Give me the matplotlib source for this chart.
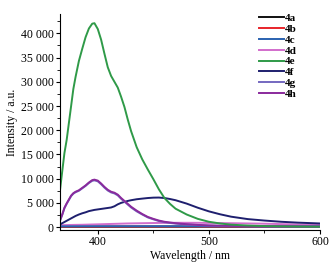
import matplotlib
matplotlib.use("Agg")
import matplotlib.pyplot as plt
from matplotlib.ticker import FuncFormatter, MultipleLocator

plt.rcParams['font.family'] = ['Liberation Serif', 'DejaVu Serif']

labels = ['4a', '4b', '4c', '4d', '4e', '4f', '4g', '4h']
colors = ['#111111', '#e8242a', '#2a62b0', '#d26ccc', '#2f9a48', '#1e1f6e', '#7468c0', '#8a2a9c']

# dense sampling for the structured spectra
wl = [366, 368, 370, 372, 374, 376, 378, 380,
      383, 386, 389, 392, 395, 397,
      400, 403, 406, 409, 412, 415, 418, 421, 424, 427, 430,
      435, 440, 445, 450, 455, 460, 465, 470,
      480, 490, 500, 510, 520,
      535, 550, 565, 580, 600]

s4d = [400, 400, 410, 420, 430, 440, 450, 460,
       470, 480, 500, 520, 540, 550,
       570, 590, 610, 630, 650, 670, 690, 710, 730, 750, 760,
       780, 800, 820, 840, 860, 870, 880, 890,
       890, 880, 860, 830, 800,
       750, 700, 620, 540, 450]
s4e = [7600, 11500, 15300, 18000, 21500, 25000, 28500, 31000,
       34300, 36800, 39200, 41000, 42000, 42100,
       40900, 38700, 35800, 33000, 31200, 30000, 28800, 26900, 24800, 22200, 19800,
       16500, 14000, 11900, 9900, 7800, 6000, 4800, 3800,
       2600, 1700, 1100, 750, 500,
       320, 200, 150, 110, 80]
s4f = [550, 800, 1050, 1300, 1550, 1800, 2050, 2300,
       2600, 2850, 3050, 3300, 3450, 3550,
       3650, 3750, 3850, 3950, 4050, 4300, 4700, 5000, 5200, 5400, 5550,
       5750, 5880, 6000, 6080, 6100, 6000, 5800, 5550,
       4850, 4000, 3250, 2650, 2150,
       1650, 1350, 1100, 920, 750]
s4g = [1300, 2500, 3900, 4800, 5600, 6400, 6900, 7200,
       7500, 8000, 8500, 9100, 9550, 9650,
       9450, 8850, 8150, 7550, 7150, 6950, 6550, 5850, 5250, 4650, 4050,
       3250, 2600, 2000, 1600, 1250, 1000, 850, 720,
       530, 400, 310, 260, 220,
       180, 140, 120, 100, 90]
s4h = [1400, 2600, 4000, 4900, 5700, 6500, 7000, 7300,
       7600, 8100, 8600, 9200, 9700, 9800,
       9600, 9000, 8300, 7700, 7300, 7100, 6700, 6000, 5400, 4800, 4200,
       3400, 2700, 2100, 1700, 1350, 1100, 950, 800,
       600, 450, 350, 300, 250,
       200, 160, 130, 110, 100]

# coarse sampling for the nearly flat spectra
wl_flat = [366, 400, 450, 500, 550, 600]
s4a = [60, 60, 70, 70, 60, 60]
s4b = [100, 110, 120, 120, 110, 100]
s4c = [160, 180, 190, 180, 160, 140]

data = {
    '4a': (wl_flat, s4a), '4b': (wl_flat, s4b), '4c': (wl_flat, s4c),
    '4d': (wl, s4d), '4e': (wl, s4e), '4f': (wl, s4f), '4g': (wl, s4g), '4h': (wl, s4h),
}

fig = plt.figure(figsize=(3.35, 2.66), dpi=100)
ax = fig.add_axes([60/335, (266-230)/266, (320-60)/335, (230-14)/266])

draw_order = ['4a', '4b', '4d', '4c', '4f', '4g', '4h', '4e']
handles = {}
for lab in draw_order:
    i = labels.index(lab)
    x, y = data[lab]
    h, = ax.plot(x, y, color=colors[i], lw=1.4, label=lab, solid_joinstyle='round')
    handles[lab] = h

ax.set_xlim(366, 600)
ax.set_ylim(-600, 44000)
ax.xaxis.set_major_locator(MultipleLocator(100))
ax.xaxis.set_minor_locator(MultipleLocator(50))
ax.yaxis.set_major_locator(MultipleLocator(5000))
ax.yaxis.set_minor_locator(MultipleLocator(2500))
ax.yaxis.set_major_formatter(FuncFormatter(lambda v, p: f"{int(v):,}".replace(",", " ")))
ax.spines['top'].set_visible(False)
ax.spines['right'].set_visible(False)
ax.tick_params(axis='both', which='major', direction='out', length=3, width=0.8, labelsize=8.5, pad=1.5)
ax.tick_params(axis='both', which='minor', direction='out', length=2, width=0.6)
ax.set_xlabel('Wavelength / nm', fontsize=8.5, labelpad=1)
ax.set_ylabel('Intensity / a.u.', fontsize=8.5, labelpad=2)

ax.legend([handles[l] for l in labels], labels, loc='upper left', bbox_to_anchor=(0.735, 1.04),
          frameon=False, prop={'weight': 'bold', 'size': 8}, handlelength=2.25,
          handletextpad=0.1, labelspacing=0.1, borderpad=0.2)

fig.savefig('out.png', dpi=100)
